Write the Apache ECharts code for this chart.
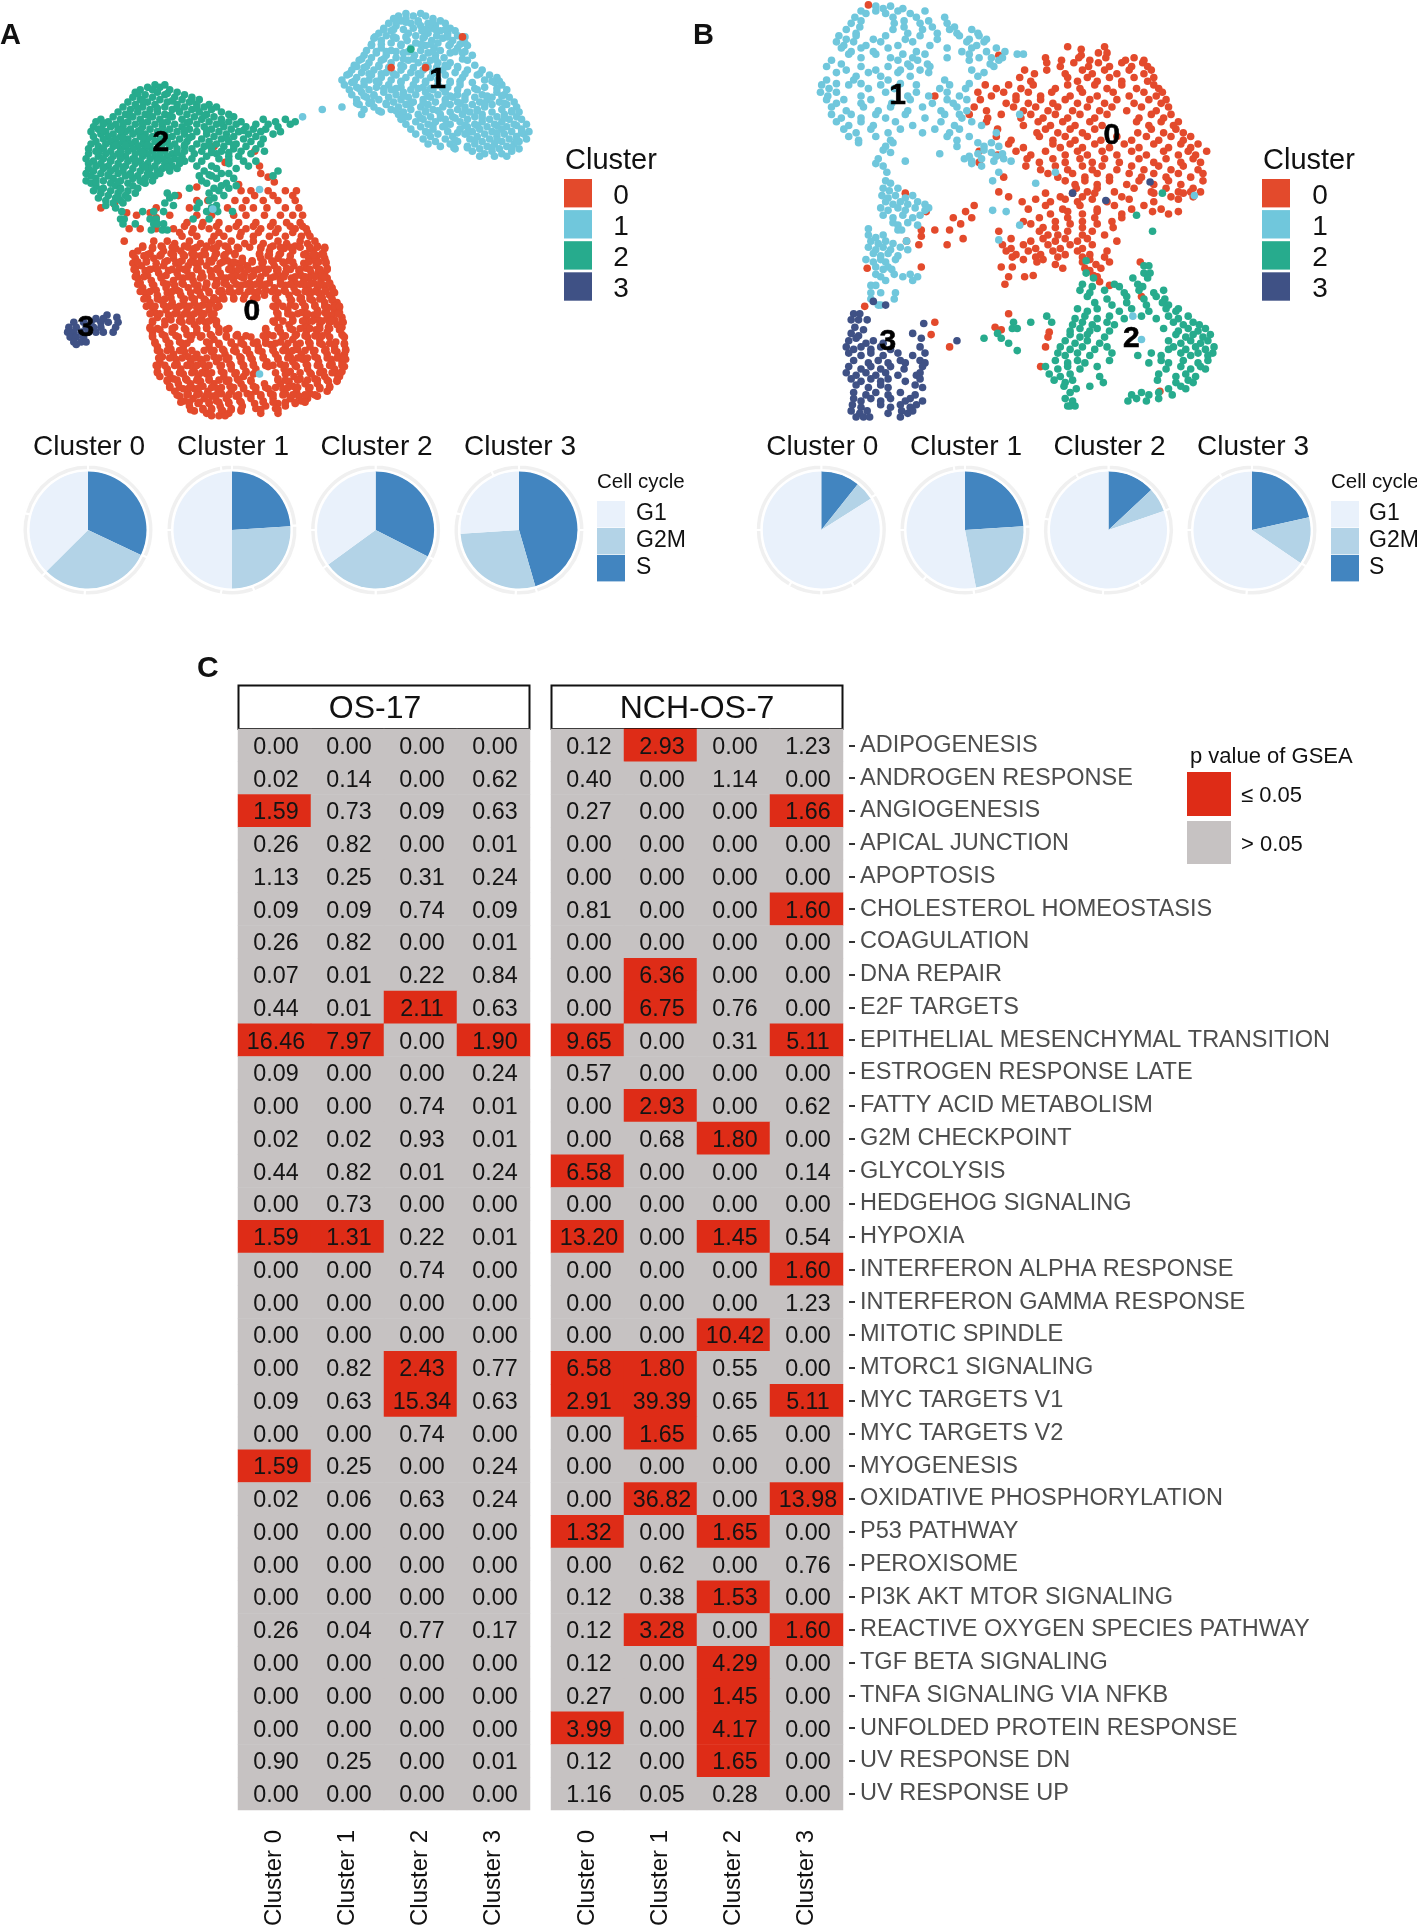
<!DOCTYPE html>
<html>
<head>
<meta charset="utf-8">
<style>html,body{margin:0;padding:0;background:#fff}#c{width:1417px;height:1929px}</style>
<script src="https://cdn.jsdelivr.net/npm/echarts@6/dist/echarts.min.js"></script>
</head>
<body>
<div id="c"></div>
<script>
// Embedding coordinates, grouped as [y, x, x, x ...]
const a0=[[119,174],[123,207],[132,183],[135,211],[141,212],[144,218],[148,223],[150,194],[152,160],[155,196,204,218,232,241],
[159,145,207,222,238],[163,160,169,191,200,214,226,240],[166,93],[169,82,127,154,185,197,206,217,232,243],[173,103,122],[175,111,138,160,172,190,200,215,228,238,246],
[177,127],[181,152,165,178,194,208,222,233,244],[186,105,114,127,141,157,170,186,200,212,226,240,249],[184,150,164,176,192,206,220,236,246],[189,146,156,178,196,210,224,238,250],
[192,148,160,174,182,195,206,219,232,245,252],[196,101,125,136,154,172,188,206,226,244,256],[198,142,163,178,199,214,233,250],
[200,116,131,150,168,183,222,240,258],[202,124,143,158,173,194,212,231,252,264],[204,112,133,147,166,186,219,238,255],
[206,108,122,139,156,176,191,211,228,249,262],[208,117,130,150,163,182,218,236,258],[210,110,125,141,157,174,197,212,226,251,264],
[212,119,136,148,170,185,205,221,235,256],[214,108,127,143,159,179,193,213,231,247,265],[216,115,133,153,168,188,201,223,239,257],
[218,110,126,146,161,177,196,214,233,249,266],[220,118,137,152,171,189,207,225,243,259],[222,111,129,144,164,179,199,216,232,253,264],
[224,120,135,156,172,192,206,227,245,258],[226,112,131,149,163,184,198,220,237,251,266],[228,123,141,157,176,190,211,228,247,261],
[230,114,133,148,168,182,203,219,240,255,268],[232,125,142,161,175,196,212,232,248,263],[234,116,135,153,167,187,204,223,239,258,270],
[236,127,144,160,180,195,216,231,251,265],[238,118,136,155,170,189,207,226,242,259,272],[240,128,147,163,181,199,215,235,252,268],
[242,120,139,156,174,190,209,224,245,262],[244,131,149,167,177,237,254,270],[246,122,140,158,172,226,246,264,274],
[248,133,150,165,236,256,272],[250,124,143,160,176,224,248,267,276],[252,135,152,170,234,258,272],[254,126,144,163,225,245,264,276],
[256,137,154,172,237,255,270],[258,128,147,164,226,249,266,278],[260,139,156,174,238,259,272],[262,124,148,167,223,250,268,279],
[264,134,158,176,235,260,274],[266,122,142,168,227,248,267,278],[268,130,151,184,216,238,257,276],[270,124,140,160,178,228,249,266],
[272,132,152,171,193,218,241,258,278],[274,124,145,163,184,204,230,250,268,280],[276,135,155,174,196,216,238,260],
[278,126,146,168,188,209,228,251,273],[280,137,178,198,220,241,262,280],[282,128,149,170,191,210,232,252,272],
[284,139,181,201,222,242,265,281],[286,130,150,172,192,213,234,255,274],[288,141,160,183,203,224,245,266,280],
[290,132,153,174,195,214,236,256,276],[292,143,163,184,205,226,246,269,281],[294,130,155,176,196,217,238,259,278],
[296,144,165,187,206,228,249,270],[298,128,156,179,198,218,241,260,280],[300,136,147,167,188,208,231,250,272],
[302,128,158,180,200,236,263,278],[304,138,149,168,191,206,232,253,274],[306,130,161,182,198,239,264,276],
[308,141,151,170,193,226,244,256],[310,136,163,184,204,235,267,274],[312,145,155,174,196,215,228,248,258],
[314,138,165,187,206,238,268],[316,149,158,177,198,218,230,251,260],[318,142,169,188,208,241,266],
[320,153,162,180,201,220,232,252],[322,146,172,192,212,243,258],[324,157,166,184,204,222,236,250],
[326,150,176,195,214,245],[328,161,170,186,207,226,240],[330,154,179,197,216,232],[332,165,172,188,208,224],
[334,158,181,196],[336,168,186,212,226],[338,172,178,183]];
const a0Dense=[[201,116,124,132,140,153,160,168,176,185,193,203,212,220,228,236,244,252,258,264],
[207,108,120,131,141,149,158,167,175,183,191,211,219,227,247,255,263],[213,112,119,134,146,155,163,172,181,190,197,205,214,222,230,238,251,259,265],
[219,109,122,128,140,150,160,176,186,194,202,210,218,226,236,244,252,260,266],[225,110,117,131,145,153,165,172,180,188,196,204,212,223,231,240,248,256,263],
[231,112,124,136,149,158,168,176,184,192,200,208,216,228,236,244,252,260,268],[237,114,122,140,146,162,170,178,186,194,202,210,221,232,240,248,256,264,271],
[243,117,128,134,150,158,166,174,182,190,198,206,224,236,244,252,260,270],[249,119,126,138,146,154,162,170,178,222,230,240,248,256,264,272,276],
[255,122,130,142,150,158,166,174,226,234,242,250,258,266,275],[261,124,134,146,154,162,170,176,222,230,238,246,254,262,270,278],
[267,122,128,140,150,160,168,178,186,216,226,236,244,252,260,268,277],[273,124,134,143,156,164,172,184,192,200,214,222,232,240,248,256,262,279],
[279,126,138,148,152,170,178,188,196,206,216,224,234,244,252,260,268,280],[285,128,136,146,156,166,174,182,190,200,210,222,230,238,248,256,264,272,281],
[291,129,138,148,158,168,178,186,196,204,214,226,234,242,250,258,266,274,280],[297,127,134,142,152,160,170,180,188,198,206,216,222,232,240,250,258,268,278],
[303,128,136,146,156,164,172,182,192,200,208,224,234,244,252,260,270,277],[309,136,144,152,160,170,178,186,194,204,226,232,242,250,258,266,274],
[315,138,146,154,162,172,180,190,198,208,216,224,234,242,252,260,268],[321,144,152,160,168,176,186,194,204,212,222,230,238,248,256],
[327,147,154,162,170,178,186,196,214,222,232,240,248],[333,155,165,172,180,188,196,212,226]];
const a1=[[87,278],[89,262],[95,246],[11,330,342],[13,324,336,346],[15,320,330,352],[17,326,340,358],[19,316,334,348,362],[21,322,342,354],[23,312,336,350,366],[25,318,343,358,370],
[27,308,332,348,364],[29,314,338,355,372],[31,304,322,344,360,376],[33,310,331,351,368],[35,318,338,356,378],[37,302,326,346,365,380],[39,310,334,353,372],[41,298,318,342,358],
[43,306,328,348,366,376],[45,296,314,337,354,384],[47,302,322,344,361],[49,292,310,332,350,380],[51,300,318,340,356,366],[53,288,308,326,346,362,386],[55,296,316,336,355,372],
[57,286,304,326,344,360,380,392],[59,294,314,334,352,370],[61,282,302,322,342,362,388,398],[63,290,310,330,350,376,404],[65,278,300,318,338,356,394],[67,286,308,326,346,366,384,402],
[69,280,296,316,336,356,374,408],[71,290,306,326,344,364,394],[73,284,300,318,334,352,372,388,412],[75,294,312,328,346,362,380,404],[77,286,304,322,338,356,372,392,410],
[79,298,316,332,350,368,386,400,414],[81,290,308,326,344,362,378,396],[83,302,320,336,354,372,390,406,418],[85,292,314,330,348,366,384,400,412],[87,304,324,342,360,378,394,420],
[89,296,318,334,352,372,388,408],[91,310,328,346,366,382,400,416,422],[93,294,324,340,358,376,392,410],[95,332,350,368,386,404,420],[97,326,344,362,380,398,414,424],
[99,338,354,374,392,408],[101,330,348,366,386,402,418,428],[103,342,360,380,396,412],[105,334,352,374,390,408,424],[107,346,364,384,400,416,430],[109,338,356,378,394,410,426],
[111,350,368,388,404,420],[113,344,362,382,398,414,428],[115,354,372,392,408,422],[117,348,366,386,402,418],[119,358,380,396,412],[121,370,390,406,422],[123,384,400,416],[125,394,408],[127,390,402,412]];
const a1Dense=[[18,322,330,340,352],[24,312,320,328,346,354,362],[30,305,320,330,345,364,378],[36,302,310,326,342,350,366,374],[42,306,314,322,332,352,370,378],
[48,294,312,328,336,354,376],[54,290,298,308,328,348,364,372],[60,284,300,310,320,340,352,378,390],[66,288,296,306,326,346,366,374,400,406],[72,292,312,322,340,350,360,386,404],
[78,296,304,328,348,366,378,396,408],[84,290,300,314,334,344,362,374,394,410],[90,308,322,346,356,378,388,416],[96,328,342,358,370,392,410],[102,352,362,378,388,404,420],
[108,348,372,380,404,424],[114,370,386,404,420],[120,369,380,400,416]];
const a2=[[69,126,134],[71,120,130],[73,114,124,138],[75,110,128,144],[77,118,134,150],[79,108,124,142,156],[81,114,130,148,162],[83,104,120,136,154],[85,110,126,144,160,170],
[87,100,116,134,150,166,176],[89,106,122,140,156,172],[91,96,112,128,146,162,180],[93,102,118,134,152,168,186],[95,92,108,124,140,158,174,190],[97,82,98,114,130,148,164,180,214,232],
[99,78,88,104,120,136,154,170,186,196,224,240],[101,84,94,110,126,142,160,176,192,208,218,236],[103,76,90,100,116,132,148,166,182,200,226],[105,80,96,106,122,138,154,172,188,206,216],
[107,74,86,102,112,128,144,160,178,194,212,228],[109,82,92,108,118,134,150,168,184,202,222],[111,76,88,98,114,124,140,156,174,190,208],[113,84,94,104,120,130,146,164,180,198,214],
[115,78,90,100,110,126,136,152,170,186,204],[117,74,86,96,106,116,132,142,160,176,192,212],[119,80,92,102,112,122,138,150,166,182,200],[121,72,84,98,108,118,128,144,156,172,190,208],
[123,78,90,104,114,124,134,150,164,180,196,215],[125,72,86,96,110,120,130,140,158,176,204],[127,80,92,102,116,126,136,148,168,186,194],[129,70,84,98,108,122,132,142,156,178],
[131,76,90,104,114,128,138,150,164,198,208],[133,72,82,96,110,120,134,146,186],[135,78,88,102,116,126,140,160,172,202],[137,72,84,94,108,122,132,144,176,192],
[139,76,90,100,114,128,138,166,226],[141,70,82,96,106,120,130,180,186],[143,74,88,102,112,126,162,172,222],[145,78,92,108,118,176,190],[147,70,84,98,114,124,164],
[149,74,90,104,118,168,184],[151,78,94,108,180,192],[153,84,98,112,154,174,186],[155,76,90,104,178],[157,82,96,110,136,170],[159,88,102,142,182],[161,80,94,104,138,174],
[163,86,98,170],[165,92,100,134,162],[167,86,141,176],[169,94,172,160],[172,99,116,125,133,168,177,189],[178,98,101,122,127,157,170],[182,100,110,125,128,133],[187,123,132,136]];
const a2Dense=[[76,112,136],[82,116,140,156],[88,112,128,144,160],[94,106,122,138,166],[100,84,100,116,132,152,180],[106,83,98,114,132,150,168,198],[112,100,116,136,154,184],
[118,94,102,120,150,170,190],[124,80,98,116,144,172,186],[130,90,110,128,146,186],[136,84,100,118,136],[142,88,106,122,170],[148,78,96,116],[154,82,98],[160,96]];
const a3=[[256,87],[258,95],[259,78,84],[262,60,68,74,82,88,96],[266,56,62,70,76,82,94],[270,55,60,66,72,78,84,92],[274,57,62,68],[278,60,66,70],[280,62]];
const aStray0=[[30,376],[55,318],[55,346]];
const aStray1=[[154,211],[170,173],[304,211]];
const aStray2=[[40,334]];

const b0=[[38,868,898],[40,879],[43,893,900],[45,879,812],[47,850,877,899,922],[49,863,886,915,930],[51,851,873,893,912,929],[54,862,885,902,920,933],
[57,833,851,880,898,918,936],[60,841,866,888,908,930],[63,829,868,884,902,922,938],[66,838,876,892,912,933],
[69,801,820,840,868,890,912,938],[72,810,830,858,878,900,924,942],[75,795,816,836,855,880,905,930,945],[78,760,806,826,846,870,892,918,940],
[81,797,826,846,866,886,908,934,948],[84,818,836,856,876,898,922,944],[87,792,824,842,860,884,904,928,950],[90,802,832,852,872,894,916,940],
[93,788,814,838,858,878,900,936,952],[96,803,830,848,868,890,926,946],[99,802,844,864,886,924,944,958],[102,832,854,874,896,934,954],
[105,811,850,870,890,936,956],[108,843,860,880,925,946,962],[111,810,845,866,884,908,932,952,968],[114,822,856,874,895,920,942,962],
[117,820,856,870,890,914,938,960,974],[120,832,862,880,902,926,950,968],[123,796,826,850,876,896,920,946,966,981],[126,811,838,866,884,908,932,958,972],
[129,835,856,878,898,926,948,970],[132,796,845,866,888,910,938,960,976],[135,834,858,880,896,920,942,962],[138,846,868,888,908,930,952,974],
[141,852,872,892,918,938,958,978],[144,816,860,882,902,928,948,968],[147,866,882,902,926,950,978],[150,874,892,916,938,960],
[153,875,892,922,948,970],[156,812,884,906,936,958,976,968],[157,736,850,872,890,938,962],[160,820,862,880,912,952,970],
[162,842,866,888,918,958],[164,831,854,876,900,938],[167,792,850,878,906,930],[170,836,864,892,920,944],
[172,753,785,868,892,937,958],[174,854,880,912,950],[177,775,790,845,868,890,912],[180,832,858,880,904],[182,781,838,870,892],
[185,848,858,880,905],[187,749,760,772],[188,812,845,868,888],[191,852,860,880,898],[192,749],
[194,783,822,848,866,884],[196,737,838,858,876,908],[199,747,770,815,832,852,870,888],[202,822,842,862,880],
[204,818,836,856,876,900],[207,826,846,866,886],[209,823,842,860,880,898],[211,832,848,886],[213,843,880,902,927],[215,858,891],
[217,749,814,823],[218,705,864,882,895],[220,886],[224,840,889],[225,820,833,892],[229,894],[231,817],[232,902],[241,928],[249,703],
[255,820],[262,760],[266,809],[268,814],[270,853],[272,757],[274,852],[282,772,850],[298,846],[318,943]];
const b1=[[5,712,724],[7,718,734],[9,700,712,730,752],[11,704,720,740],[14,695,726,745,768],[17,700,735,755],[19,692,727,748,770],[22,699,735,758,776],
[24,688,726,750,772,790],[27,696,738,762,778,795],[29,682,696,720,748,780,796],[32,688,710,736,762,788,802],[34,680,694,716,742,786,800],[37,686,704,730,756,794],
[39,684,700,722,770,790,810],[42,692,710,745,782,802,817],[44,827,832,690,712,734,752,788],[47,700,724,742,770,796,806,815],[49,676,730,746,788,812],[52,684,738,754,805],
[54,672,700,722,740,756,808],[57,688,712,732,748,790],[59,680,706,730,755,800],[62,696,716,740,795],[65,672,694,722,768],[68,680,700,732,788],
[69,668,690,716,745,772],[72,674,706,727,764,785],[75,667,680,720,745,770],[78,673,700,738,755,780],[81,672,686,708,740,770,786],[84,680,700,725,758,775],
[87,676,702,724,750,778],[90,688,714,738,765,786],[93,829,676,692,712,736,768,780],[96,684,700,720,752,782],[99,680,700,728,765,790],[102,690,710,742,776,798],
[105,686,708,732,760,780],[108,696,722,750,772,810],[111,690,712,770,788],[114,698,724,778],[116,698,726,795,806],[119,720,778,800,812],[122,718,800],[124,724,806],
[125,764,795,815],[127,788,810],[129,714,784,798,816],[131,736,790,808,822],[133,712,790],[135,718,798],[140,721,812,858],[147,720,807],[149,724,842],
[153,718,730],[155,723],[159,717,728,742],[161,722,736],[164,720,732,746],[166,726,738,752],[169,716,730,744,755],[171,722,736,752,807],[172,818],
[175,718,734,748],[177,726,742],[181,726,738],[183,730,746,829],[186,706],[187,730,733],[191,706,718],[193,712],[195,812],[196,708,720,737],[198,714,726],[201,706,718,732],[203,712,724,738],
[206,710,722],[208,716,730],[211,704,716,728],[213,710,720],[217,712,722],[219,718,725],[223,712,727,740],[225,716,734,746],[228,720,742],[232,708,712],[238,708,716,728],[243,708,727],[248,714,716]];
const b2=[[212,883],[216,930,934],[222,883,930,935],[226,889,921,933],[231,880,906,925],[233,888,910,929],[236,878,898,926,946],[238,886,914,938],
[241,884,916,940],[243,900,930,947],[246,890,916,945],[248,904,932,950],[251,876,892,920,948,958],[253,884,910,934,956],[257,851,882,902,928,950,966],[259,874,892,914,940,958],
[262,824,838,855,880,900,954,970],[264,872,888,906,962,975],[267,823,827,878,892,946,966,980],[269,870,886,902,958,974],[271,811],[272,870,884,956,970,984],[274,878,898,964,978],
[275,800,814],[277,866,884,950,968,982],[279,820,874,894,960,976],[282,862,880,900,954,972,987],[284,870,890,950,964,980],[285,827],
[287,860,876,904,936,960,974,986],[289,866,886,925,944,968,982],[293,858,876,902,944,962,982],[295,868,882,934,950,974],[298,850,868,892,960,976],[300,860,878,948,968,980],
[304,853,870,942,964],[306,862,894,956,972],[309,857,872,941,966],[311,866,897,956,970],[314,865,886,960],[316,875,950,964],[319,870,928,942],[321,920,934,953],[324,866,924,942],[326,872,917,932],[330,868,874,870],
[157,945],[175,924],[188,937]];
const b3=[[255,694,699],[260,692,698,705],[263,751],[266,695],[268,702],[271,692,742],[273,698],[275,696,749],[277,690,710,778],[279,704,718],[282,688,700,716,748],[284,694,708,724],
[287,690,708,730,752],[289,700,718,742],[293,694,714,732,748],[295,706,722,736,752],[298,690,708,724,750],[300,700,716,735],[303,688,704,720,748],[305,696,712,730,745],[308,692,708,722,748],[310,700,716,736],
[313,696,716,744],[315,706,722,750],[319,694,712,732],[321,704,722,744],[324,694,708,724,740],[326,700,716,736,750],[329,693,716,732,745],[331,700,724,740],[334,692,705,733,742],[336,699,722,738],[339,696,702,707,732],[245,710],[248,720]];
const bStray0=[[4,706]];
const bStray1=[[159,971],[257,921],[276,928]];
const bStray3=[[148,935],[157,872],[163,899]];

const aLabelNames=['0','1','2','3'];
const aLabelX=[204,355,130,69];
const aLabelY=[252,63,114,265];
const bLabelX=[903,729,919,721];
const bLabelY=[109,76,274,276];

// Cell-cycle share per cluster: S, G2M, G1
const cycleNames=['S','G2M','G1'];
const cycleA=[[32,30.5,37.5],[24,26,50],[32.5,32.5,35],[45.5,28.5,26]];
const cycleB=[[10.7,5.3,84],[24,23,53],[13,6.7,80.3],[21.5,13,65.5]];
// Angular positions of the gaps in each pie's outer ring, degrees clockwise from the top
const ringA=[[0,115,183,225,285],[0,86,160,190,270,350],[0,117,180,234,270],[0,90,164,183,285,335]];
const ringB=[[0,57,150,180,210,270],[0,87,172,220,270,350],[0,71,150,185,280,330],[0,124,185,270,330]];
const clusters=['Cluster 0','Cluster 1','Cluster 2','Cluster 3'];

const pathways=['ADIPOGENESIS','ANDROGEN RESPONSE','ANGIOGENESIS','APICAL JUNCTION','APOPTOSIS','CHOLESTEROL HOMEOSTASIS','COAGULATION','DNA REPAIR','E2F TARGETS','EPITHELIAL MESENCHYMAL TRANSITION','ESTROGEN RESPONSE LATE','FATTY ACID METABOLISM','G2M CHECKPOINT','GLYCOLYSIS','HEDGEHOG SIGNALING','HYPOXIA','INTERFERON ALPHA RESPONSE','INTERFERON GAMMA RESPONSE','MITOTIC SPINDLE','MTORC1 SIGNALING','MYC TARGETS V1','MYC TARGETS V2','MYOGENESIS','OXIDATIVE PHOSPHORYLATION','P53 PATHWAY','PEROXISOME','PI3K AKT MTOR SIGNALING','REACTIVE OXYGEN SPECIES PATHWAY','TGF BETA SIGNALING','TNFA SIGNALING VIA NFKB','UNFOLDED PROTEIN RESPONSE','UV RESPONSE DN','UV RESPONSE UP'];
const os17=[[0,0,0,0],[0.02,0.14,0,0.62],[1.59,0.73,0.09,0.63],[0.26,0.82,0,0.01],[1.13,0.25,0.31,0.24],[0.09,0.09,0.74,0.09],[0.26,0.82,0,0.01],[0.07,0.01,0.22,0.84],[0.44,0.01,2.11,0.63],[16.46,7.97,0,1.90],[0.09,0,0,0.24],[0,0,0.74,0.01],[0.02,0.02,0.93,0.01],[0.44,0.82,0.01,0.24],[0,0.73,0,0],[1.59,1.31,0.22,0.01],[0,0,0.74,0],[0,0,0,0],[0,0,0,0],[0,0.82,2.43,0.77],[0.09,0.63,15.34,0.63],[0,0,0.74,0],[1.59,0.25,0,0.24],[0.02,0.06,0.63,0.24],[0,0,0,0],[0,0,0,0],[0,0,0,0],[0.26,0.04,0.77,0.17],[0,0,0,0],[0,0,0,0],[0,0,0,0],[0.90,0.25,0,0.01],[0,0,0,0]];
const nch=[[0.12,2.93,0,1.23],[0.40,0,1.14,0],[0.27,0,0,1.66],[0,0,0,0],[0,0,0,0],[0.81,0,0,1.60],[0,0,0,0],[0,6.36,0,0],[0,6.75,0.76,0],[9.65,0,0.31,5.11],[0.57,0,0,0],[0,2.93,0,0.62],[0,0.68,1.80,0],[6.58,0,0,0.14],[0,0,0,0],[13.20,0,1.45,0.54],[0,0,0,1.60],[0,0,0,1.23],[0,0,10.42,0],[6.58,1.80,0.55,0],[2.91,39.39,0.65,5.11],[0,1.65,0.65,0],[0,0,0,0],[0,36.82,0,13.98],[1.32,0,1.65,0],[0,0.62,0,0.76],[0.12,0.38,1.53,0],[0.12,3.28,0,1.60],[0.12,0,4.29,0],[0.27,0,1.45,0],[3.99,0,4.17,0],[0.12,0,1.65,0],[1.16,0.05,0.28,0]];
const sigThreshold=1.3;

const FONT='"Liberation Sans", Arial, sans-serif';
const clusterColors=['#E34A2C','#70C7DC','#27AB8D','#3F5185'];
const cycleColors=['#4285C0','#B3D3E7','#E9F1FB'];
const RED='#DE2C17', GRAY='#C6C2C2';
const SX=1417/1152, SY=1929/1568;

const expand=rows=>rows.flatMap(([y,...xs])=>xs.map(x=>[x,y]));
const heat=m=>m.flatMap((r,i)=>r.map((v,j)=>[j,i,v]));

const series=[], graphic=[];
function scatter(rows,color,gi){
  series.push({type:'scatter',xAxisIndex:gi,yAxisIndex:gi,data:expand(rows),symbolSize:7.6,silent:true,animation:false,
    itemStyle:{color,opacity:1},large:false});
}
[[a0,0],[a0Dense,0],[a1,1],[a1Dense,1],[a2,2],[a2Dense,2],[a3,3],[aStray0,0],[aStray1,1],[aStray2,2]].forEach(([r,c])=>scatter(r,clusterColors[c],0));
[[b0,0],[b1,1],[b2,2],[b3,3],[bStray0,0],[bStray1,1],[bStray3,3]].forEach(([r,c])=>scatter(r,clusterColors[c],1));
[[aLabelX,aLabelY,0],[bLabelX,bLabelY,1]].forEach(([xs,ys,gi])=>{
  series.push({type:'scatter',xAxisIndex:gi,yAxisIndex:gi,symbolSize:0,silent:true,animation:false,z:10,
    data:xs.map((x,i)=>({name:aLabelNames[i],value:[x,ys[i]]})),
    label:{show:true,position:'inside',offset:[1,2],formatter:'{b}',color:'#000',opacity:1,fontFamily:FONT,fontWeight:'bold',fontSize:30,textBorderColor:'#000',textBorderWidth:0.6}});
});

function pies(cycle,ring,centers,cy){
  cycle.forEach((vals,i)=>{
    const data=vals.map((v,k)=>({name:cycleNames[k],value:v,itemStyle:{color:cycleColors[k]}}));
    series.push({type:'pie',center:[centers[i],cy],radius:[0,58.5],startAngle:90,data,silent:true,animation:false,label:{show:false},labelLine:{show:false}});
    const g=ring[i];
    series.push({type:'pie',center:[centers[i],cy],radius:[60,65.5],startAngle:90,silent:true,animation:false,label:{show:false},labelLine:{show:false},
      data:g.map((a,k)=>({value:(k+1<g.length?g[k+1]:360)-a,itemStyle:{color:'#F0F0F0',borderColor:'#fff',borderWidth:2}}))});
  });
}
const piesAx=[88,232,375.6,519], piesBx=[821.3,965,1108.5,1252];
pies(cycleA,ringA,piesAx,530); pies(cycleB,ringB,piesBx,530);

const heatIdx=[];
[[os17,2],[nch,3]].forEach(([m,gi])=>{
  heatIdx.push(series.length);
  series.push({type:'heatmap',xAxisIndex:gi,yAxisIndex:gi,data:heat(m),silent:true,animation:false,progressive:0,
    label:{show:true,offset:[1.5,2],color:'#141414',fontFamily:FONT,fontSize:23.3,formatter:p=>p.value[2].toFixed(2)},
    itemStyle:{borderWidth:0}});
});

const text=(t,x,y,size,o={})=>graphic.push({type:'text',silent:true,style:{text:t,x,y:y+2.2,font:`${o.bold?'bold ':''}${size}px ${FONT}`,fill:o.fill||'#111',align:o.align||'left',verticalAlign:'middle'}});
const rect=(x,y,w,h,fill,o={})=>graphic.push({type:'rect',silent:true,shape:{x,y,width:w,height:h},style:{fill,stroke:o.stroke||null,lineWidth:o.lw||0}});

text('A',0,34,29,{bold:true}); text('B',693,34,29,{bold:true}); text('C',197,667,30,{bold:true});
// Cluster legends
[[565,621],[1263,1320]].forEach(([sx,lx])=>{
  text('Cluster',sx,159,29);
  aLabelNames.forEach((n,i)=>{
    rect(sx-1,179+i*31.1,28,28.4,clusterColors[i]);
    text(n,lx,194+i*31.1,28,{align:'center'});
  });
});
// Pie titles
piesAx.forEach((x,i)=>text(clusters[i],x+1,445,28,{align:'center'}));
piesBx.forEach((x,i)=>text(clusters[i],x+1,445,28,{align:'center'}));
// Cell cycle legends
[[597,636],[1331,1369]].forEach(([sx,lx])=>{
  text('Cell cycle',sx,480,20.5);
  ['G1','G2M','S'].forEach((n,i)=>{
    rect(sx,501+i*27,28,26.4,cycleColors[2-i]);
    text(n,lx,511+i*27.4,23);
  });
});
// Strips
rect(238.5,685.5,291,43.5,'#fff',{stroke:'#111',lw:2});
rect(551.5,685.5,291,43.5,'#fff',{stroke:'#111',lw:2});
text('OS-17',375,707,32,{align:'center'});
text('NCH-OS-7',697,707,32,{align:'center'});
// p value legend
text('p value of GSEA',1190,755,22);
rect(1187,772,44,44,RED); rect(1187,821,44,43,GRAY);
text('≤ 0.05',1241,794,22); text('> 0.05',1241,843,22);

const blankAxis=(i,min,max,inv)=>({type:'value',gridIndex:i,min,max,inverse:!!inv,show:false});
const catX=i=>({type:'category',gridIndex:i,data:clusters,position:'bottom',axisLine:{show:false},axisTick:{show:false},splitLine:{show:false},
  axisLabel:{rotate:90,margin:20,padding:[4,0,0,0],color:'#111',fontFamily:FONT,fontSize:24,interval:0}});
const catY=(i,show)=>({type:'category',gridIndex:i,data:pathways,inverse:true,position:'right',offset:6,splitLine:{show:false},show,
  axisLine:{show:false},axisTick:{show:true,alignWithLabel:true,length:6,lineStyle:{color:'#333',width:2}},
  axisLabel:{margin:11,padding:[3,0,0,0],color:'#4D4D4D',fontFamily:FONT,fontSize:23.5,interval:0}});

const option={
  backgroundColor:'#fff',animation:false,
  grid:[
    {left:0,top:0,width:560*SX,height:350*SY},
    {left:560*SX,top:0,width:440*SX,height:350*SY},
    {left:238,top:729,width:292,height:1085},
    {left:551,top:729,width:292,height:1085}
  ],
  xAxis:[blankAxis(0,0,560),blankAxis(1,560,1000),catX(2),catX(3)],
  yAxis:[blankAxis(0,0,350,true),blankAxis(1,0,350,true),catY(2,false),catY(3,true)],
  visualMap:[{type:'piecewise',show:false,seriesIndex:heatIdx,dimension:2,pieces:[{gte:sigThreshold,color:RED},{lt:sigThreshold,color:GRAY}]}],
  series,graphic
};
const chart=echarts.init(document.getElementById('c'),null,{renderer:'canvas'});
chart.setOption(option);
</script>
</body>
</html>
